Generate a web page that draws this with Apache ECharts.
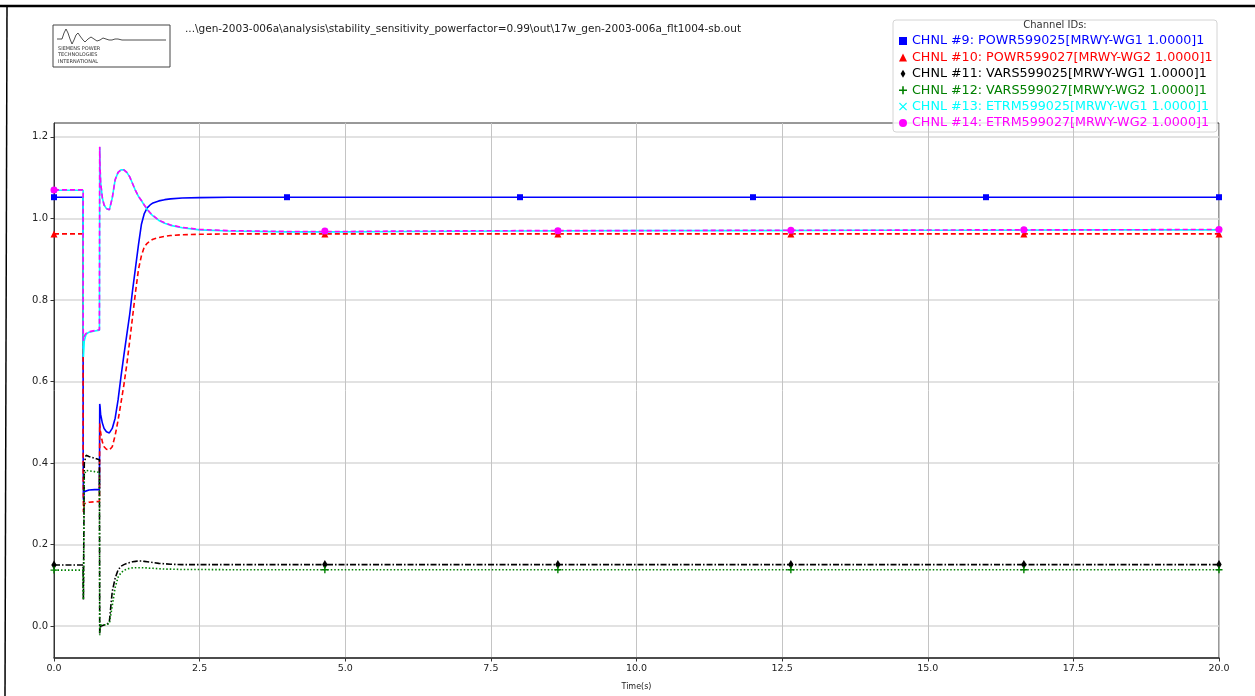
<!DOCTYPE html>
<html>
<head>
<meta charset="utf-8">
<script src="https://cdn.jsdelivr.net/npm/echarts@6/dist/echarts.min.js"></script>
<style>
html,body{margin:0;padding:0;background:#fff;}
#chart{width:1255px;height:696px;}
</style>
</head>
<body>
<div id="chart"></div>
<script>
// ---------- DATA ----------
const timeS = [0, 0.5, 0.5, 0.505, 0.52, 0.55, 0.6, 0.7, 0.78, 0.785, 0.79, 0.8, 0.83, 0.86, 0.9, 0.95,
  1.0, 1.05, 1.1, 1.15, 1.2, 1.25, 1.3, 1.35, 1.4, 1.45, 1.5, 1.55, 1.6, 1.65, 1.7, 1.8, 1.9, 2.0, 2.2, 2.5,
  3.0, 4.0, 5.0, 6.0, 8.0, 10.0, 12.0, 14.0, 16.0, 18.0, 20.0];

const powr599025 = [1.052, 1.052, 0.45, 0.31, 0.33, 0.333, 0.334, 0.335, 0.335, 0.545, 0.54, 0.52, 0.498, 0.485, 0.477, 0.474,
  0.485, 0.51, 0.555, 0.612, 0.665, 0.715, 0.765, 0.825, 0.88, 0.935, 0.985, 1.012, 1.026, 1.033, 1.038, 1.043, 1.046, 1.048, 1.050, 1.051,
  1.052, 1.052, 1.052, 1.052, 1.052, 1.052, 1.052, 1.052, 1.052, 1.052, 1.052];

const powr599027 = [0.962, 0.962, 0.40, 0.28, 0.30, 0.303, 0.304, 0.305, 0.306, 0.497, 0.49, 0.475, 0.452, 0.440, 0.434, 0.432,
  0.44, 0.468, 0.505, 0.548, 0.592, 0.642, 0.700, 0.760, 0.820, 0.875, 0.908, 0.930, 0.939, 0.945, 0.949, 0.953, 0.956, 0.958, 0.960, 0.961,
  0.962, 0.962, 0.962, 0.962, 0.962, 0.962, 0.962, 0.962, 0.962, 0.962, 0.962];

const vars599025 = [0.150, 0.150, 0.10, 0.065, 0.40, 0.419, 0.416, 0.412, 0.408, -0.018, -0.01, 0.0, 0.002, 0.003, 0.004, 0.01,
  0.085, 0.118, 0.138, 0.147, 0.151, 0.154, 0.156, 0.158, 0.159, 0.160, 0.160, 0.159, 0.158, 0.157, 0.156, 0.154, 0.153, 0.152, 0.151, 0.151,
  0.151, 0.151, 0.151, 0.151, 0.151, 0.151, 0.151, 0.151, 0.151, 0.151, 0.151];

const vars599027 = [0.1376, 0.1376, 0.10, 0.065, 0.37, 0.382, 0.381, 0.379, 0.377, -0.022, -0.01, 0.003, 0.003, 0.003, 0.004, 0.006,
  0.05, 0.095, 0.120, 0.131, 0.137, 0.140, 0.142, 0.143, 0.1435, 0.1435, 0.1435, 0.143, 0.143, 0.142, 0.142, 0.141, 0.140, 0.140, 0.139, 0.139,
  0.1385, 0.1385, 0.1385, 0.1385, 0.1385, 0.1385, 0.1385, 0.1385, 0.1385, 0.1385, 0.1385];

const etrm599025 = [1.069, 1.069, 0.70, 0.66, 0.70, 0.716, 0.721, 0.724, 0.726, 1.175, 1.13, 1.09, 1.05, 1.033, 1.024, 1.021,
  1.05, 1.095, 1.113, 1.119, 1.119, 1.113, 1.102, 1.085, 1.068, 1.054, 1.044, 1.032, 1.022, 1.013, 1.006, 0.995, 0.988, 0.983, 0.977, 0.972,
  0.969, 0.967, 0.967, 0.968, 0.969, 0.970, 0.970, 0.971, 0.971, 0.972, 0.972];

const etrm599027 = [1.070, 1.070, 0.75, 0.70, 0.712, 0.718, 0.722, 0.725, 0.727, 1.176, 1.13, 1.09, 1.05, 1.033, 1.024, 1.021,
  1.05, 1.095, 1.113, 1.119, 1.119, 1.113, 1.102, 1.085, 1.068, 1.054, 1.044, 1.033, 1.023, 1.014, 1.007, 0.996, 0.989, 0.984, 0.978, 0.973,
  0.970, 0.968, 0.968, 0.969, 0.970, 0.970, 0.971, 0.971, 0.972, 0.972, 0.973];

// marker positions
const markTimesA = [0, 4, 8, 12, 16, 20];
const markTimesB = [0, 4.65, 8.65, 12.65, 16.65, 20];
const markPowr599025 = [1.052, 1.052, 1.052, 1.052, 1.052, 1.052];
const markPowr599027 = [0.962, 0.962, 0.962, 0.962, 0.962, 0.962];
const markVars599025 = [0.150, 0.151, 0.151, 0.151, 0.151, 0.151];
const markVars599027 = [0.1376, 0.1385, 0.1385, 0.1385, 0.1385, 0.1385];
const markEtrm599025 = [1.069, 0.968, 0.970, 0.970, 0.971, 0.972];
const markEtrm599027 = [1.070, 0.969, 0.970, 0.971, 0.972, 0.973];

const channelNames = [
  'CHNL #9: POWR599025[MRWY-WG1 1.0000]1',
  'CHNL #10: POWR599027[MRWY-WG2 1.0000]1',
  'CHNL #11: VARS599025[MRWY-WG1 1.0000]1',
  'CHNL #12: VARS599027[MRWY-WG2 1.0000]1',
  'CHNL #13: ETRM599025[MRWY-WG1 1.0000]1',
  'CHNL #14: ETRM599027[MRWY-WG2 1.0000]1'
];

const xTicks = [0, 2.5, 5, 7.5, 10, 12.5, 15, 17.5, 20];
const yTicks = [0, 0.2, 0.4, 0.6, 0.8, 1.0, 1.2];
const filePath = '...\\gen-2003-006a\\analysis\\stability_sensitivity_powerfactor=0.99\\out\\17w_gen-2003-006a_flt1004-sb.out';
const logoLines = ['SIEMENS POWER', 'TECHNOLOGIES', 'INTERNATIONAL'];

// ---------- STYLE ----------
const colors = ['#0000ff', '#ff0000', '#000000', '#008000', '#00ffff', '#ff00ff'];
const PLUS = 'path://M4,0H6V4H10V6H6V10H4V6H0V4H4Z';
const XMARK = 'path://M1,0L5,4L9,0L10,1L6,5L10,9L9,10L5,6L1,10L0,9L4,5L0,1Z';
const TDIAM = 'path://M5,0L8,5L5,10L2,5Z';
const icons = ['rect', 'triangle', TDIAM, PLUS, XMARK, 'circle'];
const markSizes = [6, 7, 9, 7, 6, 7];
const lineSets = [
  {vals: powr599025, type: 'solid'},
  {vals: powr599027, type: [5, 3]},
  {vals: vars599025, type: [6, 2, 1.5, 2]},
  {vals: vars599027, type: [1.5, 2]},
  {vals: etrm599025, type: 'solid'},
  {vals: etrm599027, type: [5, 3]}
];
const markSets = [
  [markTimesA, markPowr599025],
  [markTimesB, markPowr599027],
  [markTimesB, markVars599025],
  [markTimesB, markVars599027],
  [markTimesB, markEtrm599025],
  [markTimesB, markEtrm599027]
];

const FONT = 'DejaVu Sans';
const series = [];
lineSets.forEach((ls, i) => {
  series.push({
    name: channelNames[i], type: 'line', symbol: 'none', animation: false,
    data: timeS.map((t, k) => [t, ls.vals[k]]),
    lineStyle: {color: colors[i], width: 1.6, type: ls.type},
    itemStyle: {color: colors[i]},
    z: 2 + i, clip: true
  });
});
markSets.forEach((ms, i) => {
  series.push({
    name: channelNames[i], type: 'scatter', symbol: icons[i], symbolSize: markSizes[i],
    symbolKeepAspect: true, animation: false, clip: true,
    data: ms[0].map((t, k) => [t, ms[1][k]]),
    itemStyle: {color: colors[i], opacity: 1},
    z: 10 + i
  });
});

const chart = echarts.init(document.getElementById('chart'), null, {renderer: 'canvas'});
chart.setOption({
  backgroundColor: '#fff',
  animation: false,
  grid: {left: 54, right: 36, top: 123, bottom: 36, show: true, borderColor: '#333', borderWidth: 1},
  xAxis: {
    type: 'value', min: 0, max: 20, interval: 2.5,
    name: 'Time(s)', nameLocation: 'middle', nameGap: 25,
    nameTextStyle: {fontFamily: FONT, fontSize: 8, color: '#222'},
    axisLine: {show: true, onZero: false, lineStyle: {color: '#333', width: 1.5}},
    axisTick: {show: true, length: 3.5, lineStyle: {color: '#333'}},
    axisLabel: {fontFamily: FONT, fontSize: 9.5, color: '#222', margin: 6,
      customValues: xTicks, formatter: v => v.toFixed(1)},
    splitLine: {show: true, lineStyle: {color: '#c4c4c4', width: 1}}
  },
  yAxis: {
    type: 'value', min: -0.078, max: 1.234,
    axisLine: {show: true, onZero: false, lineStyle: {color: '#333', width: 1}},
    axisTick: {show: true, length: 3.5, customValues: yTicks, lineStyle: {color: '#333'}},
    axisLabel: {fontFamily: FONT, fontSize: 10, color: '#222', margin: 6,
      customValues: yTicks, formatter: v => v.toFixed(1)},
    splitLine: {show: true, lineStyle: {color: '#d8d8d8', width: 1.5}}
  },
  legend: {
    orient: 'vertical', left: 899, top: 34, padding: 0,
    itemWidth: 8, itemHeight: 8, itemGap: 2.4, symbolKeepAspect: true,
    selectedMode: false,
    textStyle: {fontFamily: FONT, fontSize: 12.7, lineHeight: 14},
    data: channelNames.map((n, i) => ({
      name: n, icon: icons[i],
      itemStyle: {color: colors[i], borderWidth: 0},
      textStyle: {color: colors[i]}
    }))
  },
  graphic: [
    {type: 'rect', z: 0, shape: {x: 893, y: 20, width: 324, height: 112, r: 3},
      style: {fill: 'rgba(255,255,255,0.85)', stroke: '#d4d4d4', lineWidth: 1}},
    {type: 'text', z: 1, x: 1055, y: 20,
      style: {text: 'Channel IDs:', fontFamily: FONT, fontSize: 10, fill: '#333', textAlign: 'center', textVerticalAlign: 'top'}},
    {type: 'line', shape: {x1: 0, y1: 6, x2: 1255, y2: 6}, style: {stroke: '#000', lineWidth: 2.5}},
    {type: 'line', shape: {x1: 7, y1: 7, x2: 5, y2: 696}, style: {stroke: '#000', lineWidth: 1.5}},
    {type: 'rect', shape: {x: 53, y: 25, width: 117, height: 42}, style: {fill: '#fff', stroke: '#444', lineWidth: 1}},
    {type: 'polyline', shape: {points: [[57,39],[62,39],[64,33],[66,29],[68,33],[70,39],[72,44],[74,40],[76,35],[78,33],[80,36],[83,40],[85,42],[88,39],[91,37],[94,39],[97,41],[100,40],[103,38],[106,39],[109,40],[112,40],[115,39],[118,39],[122,40],[166,40]]},
      style: {stroke: '#222', lineWidth: 0.8, fill: null}},
    {type: 'text', x: 58, y: 45, style: {text: logoLines.join('\n'), fontFamily: FONT, fontSize: 5, lineHeight: 6.5, fill: '#333'}},
    {type: 'text', x: 185, y: 24,
      style: {text: filePath, fontFamily: FONT, fontSize: 10.5, fill: '#222'}}
  ],
  series: series
});
</script>
</body>
</html>
